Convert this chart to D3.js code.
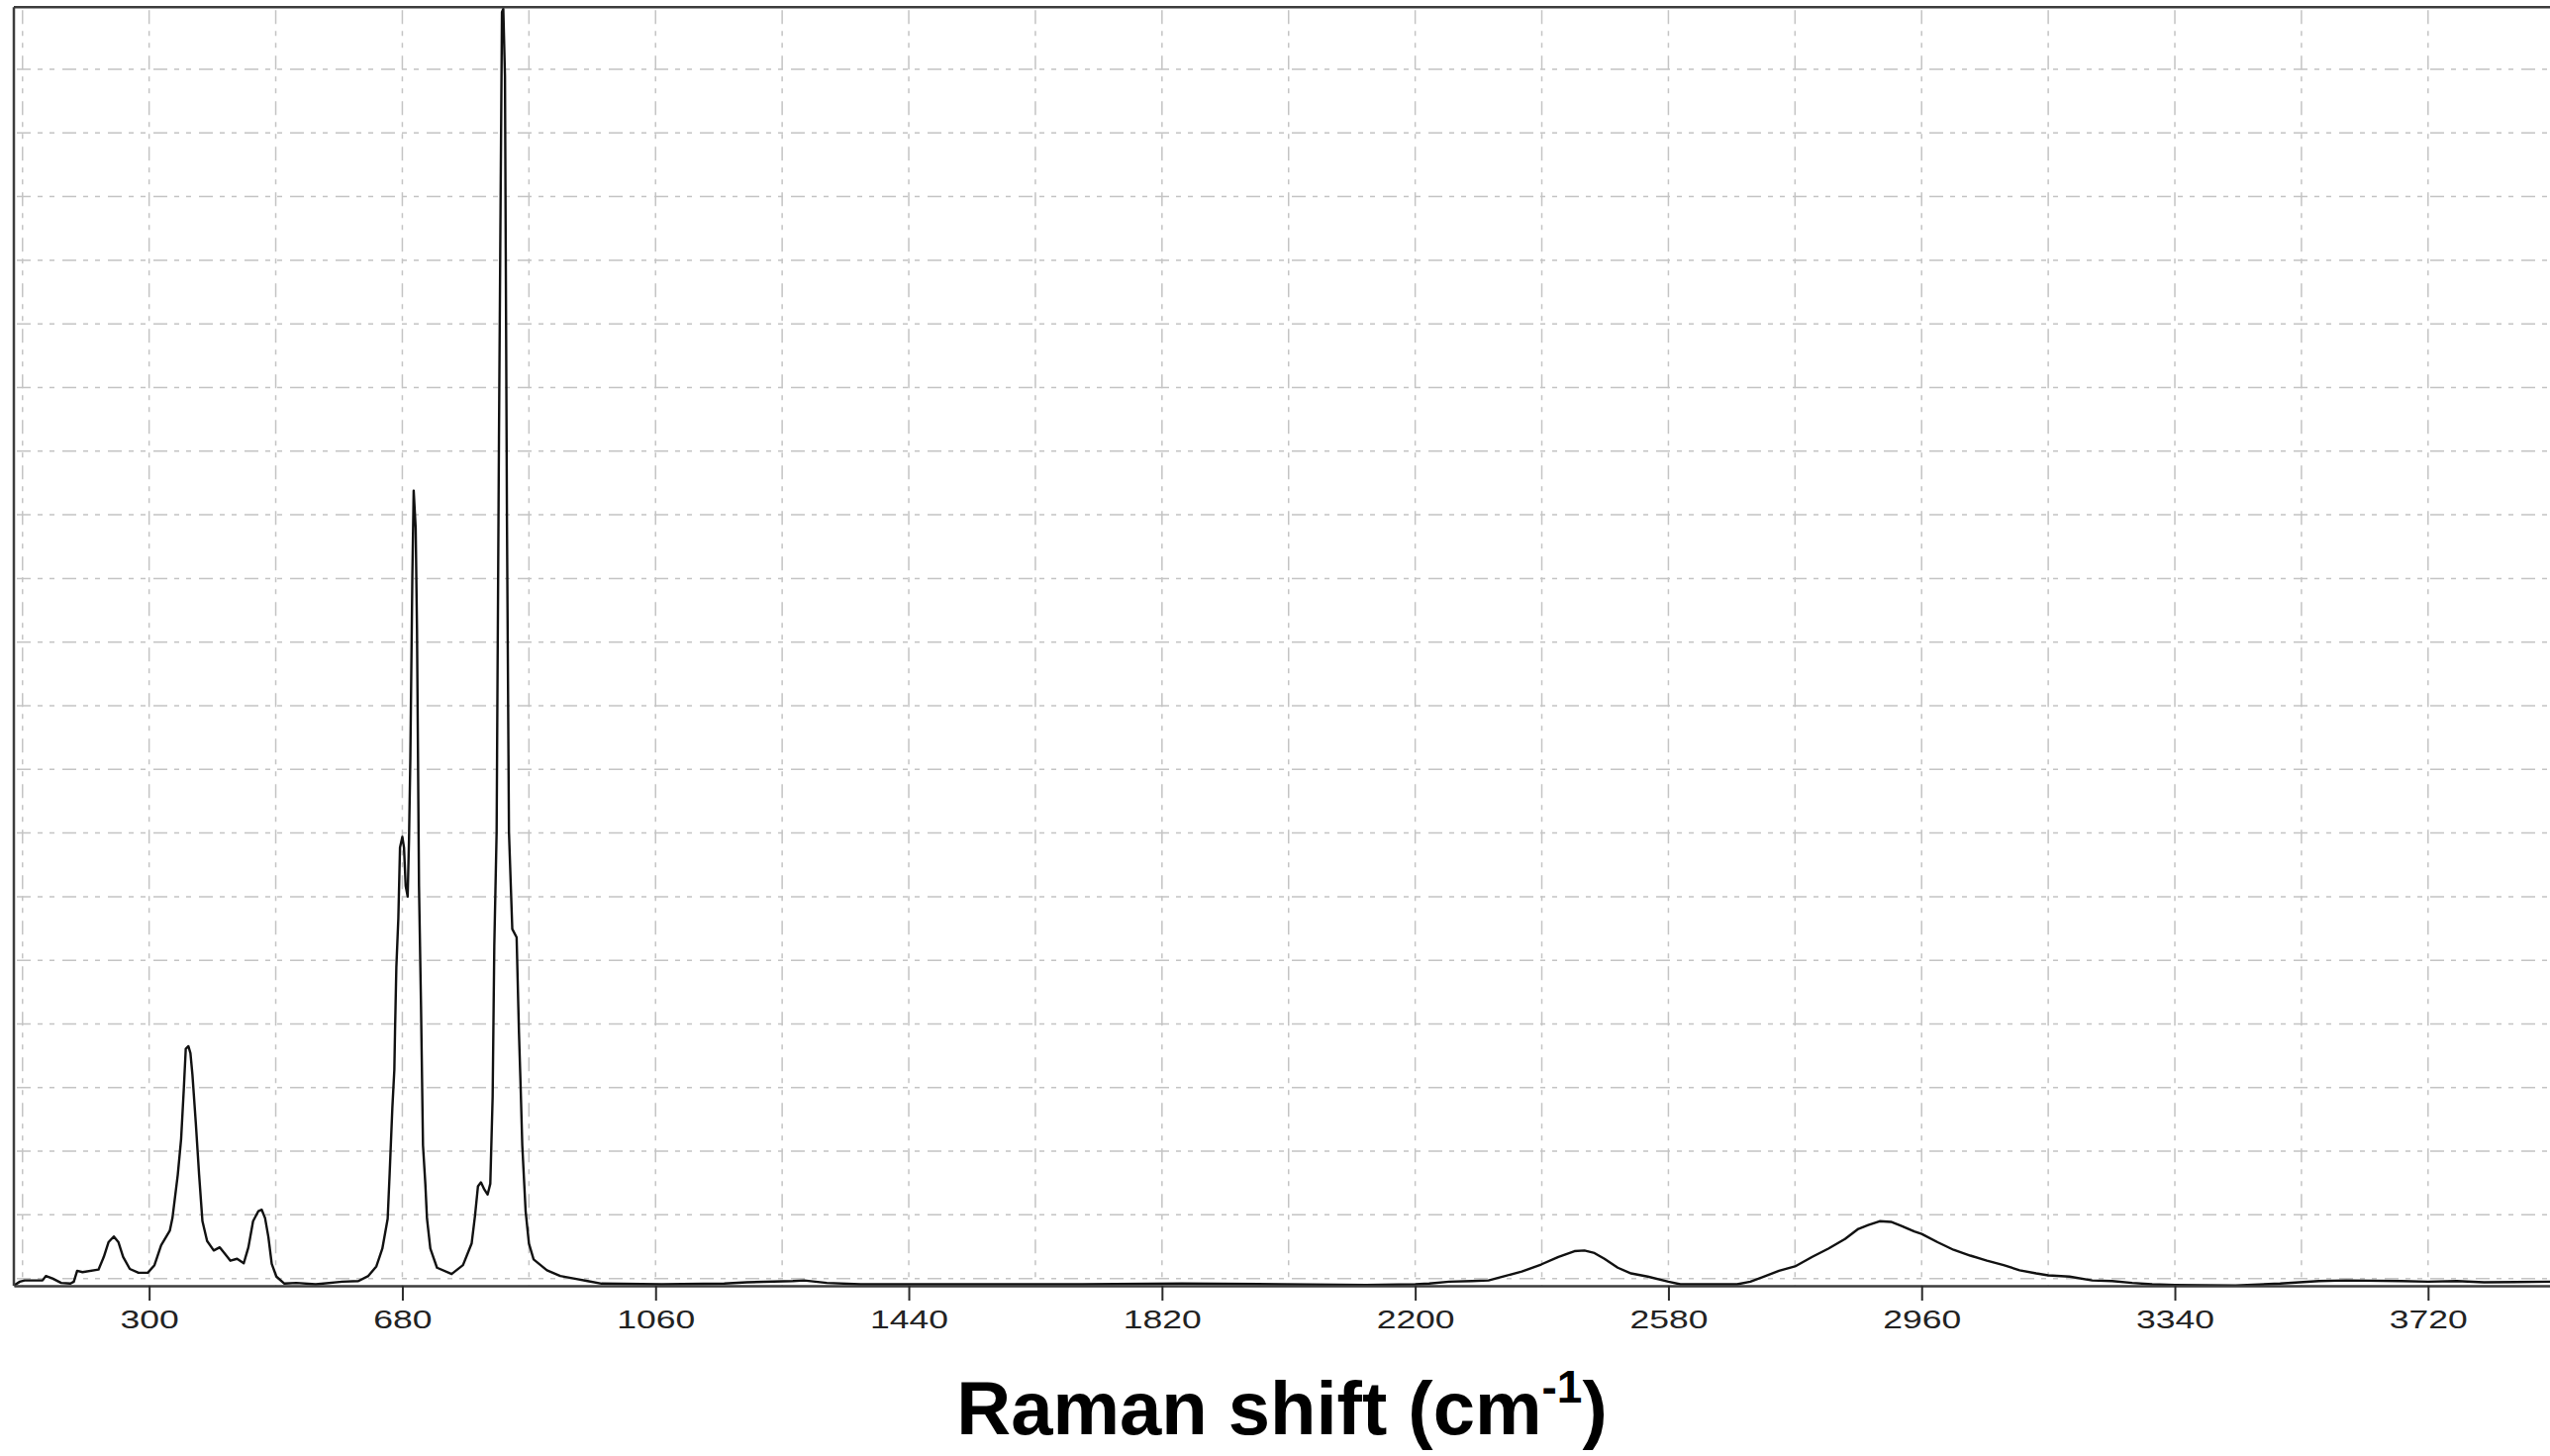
<!DOCTYPE html>
<html>
<head>
<meta charset="utf-8">
<script src="https://cdn.jsdelivr.net/npm/d3@7/dist/d3.min.js"></script>
<style>
  html, body { margin: 0; padding: 0; background: #fff; }
  svg { display: block; }
</style>
</head>
<body>
<script>
// ---- Data ----
const shift = [97,106,113,140,145,155,168,182,187,192,200,224,232,239,247,254,261,271,284,298,
  308,318,331,335,343,348,352,355,359,362,365,370,375,380,387,397,406,412,422,432,442,449,456,464,469,474,479,484,491,503,
  521,550,590,614,629,641,650,658,661,665,668,669,671,674,676.5,680,682.5,685,688,690,692,695,697,700,702,705,708,711,714.5,717,
  722,732,754,771,784,789,793.5,798,803,808,812,815.5,818,821.5,825,827.5,829.5,831.5,834,837,840,845,851.5,855,857.5,860,865,870,877,
  897,917,937,958,979,1069,1163,1197,1266,1283,1317,1368,1426,1550,1700,1850,2000,2126,2200,2221,2251,2285,2310,2335,2360,2389,
  2415,2439,2454,2469,2484,2504,2524,2549,2580,2598,2623,2653,2683,2703,2721,2746,2770,2796,2820,2845,2865,2880,2897,2914,2929,
  2949,2960,2984,3008,3033,3058,3083,3107,3132,3150,3182,3216,3246,3276,3306,3340,3431,3498,3556,3597,3680,3720,3763,3804,3903];
const intensity = [-0.11,-0.05,-0.03,-0.03,0.04,0.0,-0.07,-0.08,-0.05,0.12,0.10,0.14,0.34,0.57,0.66,0.57,0.34,0.15,0.09,0.09,
  0.21,0.52,0.75,0.95,1.63,2.19,2.97,3.61,3.65,3.54,3.2,2.45,1.63,0.90,0.59,0.44,0.49,0.41,0.28,0.31,0.24,0.49,0.90,1.06,1.08,0.95,0.65,0.23,0.03,-0.08,
  -0.07,-0.09,-0.05,-0.04,0.04,0.19,0.47,0.94,1.66,2.68,3.28,3.87,4.89,5.66,6.77,6.94,6.77,6.17,6.0,6.89,8.17,11.02,12.38,11.79,10.2,6.17,4.3,2.09,1.49,0.94,
  0.47,0.17,0.07,0.21,0.55,0.98,1.45,1.51,1.40,1.32,1.49,2.85,5.23,7.02,13.2,17.0,19.9,19.95,18.9,11.9,7.02,5.49,5.36,3.87,3.02,2.09,1.06,0.55,0.30,
  0.13,0.04,0.0,-0.04,-0.08,-0.09,-0.08,-0.06,-0.04,-0.03,-0.07,-0.09,-0.09,-0.09,-0.09,-0.08,-0.09,-0.10,-0.09,-0.08,-0.05,-0.04,-0.03,0.04,0.11,0.22,
  0.34,0.43,0.44,0.40,0.31,0.17,0.08,0.03,-0.05,-0.09,-0.09,-0.09,-0.09,-0.05,0.02,0.12,0.19,0.34,0.47,0.62,0.78,0.84,0.90,0.89,0.83,
  0.74,0.70,0.57,0.45,0.36,0.28,0.21,0.13,0.08,0.05,0.03,-0.03,-0.04,-0.07,-0.09,-0.10,-0.11,-0.08,-0.04,-0.03,-0.04,-0.05,-0.04,-0.06,-0.05];

const xTicks = [300, 680, 1060, 1440, 1820, 2200, 2580, 2960, 3340, 3720];
const xGrid = [110, 300, 490, 680, 870, 1060, 1250, 1440, 1630, 1820, 2010, 2200, 2390, 2580, 2770, 2960, 3150, 3340, 3530, 3720];
const yGrid = [0,1,2,3,4,5,6,7,8,9,10,11,12,13,14,15,16,17,18,19];
const xDomain = [97, 3903];
const yDomain = [-0.114, 19.975];
const xTitle = "Raman shift (cm";
const xTitleSup = "-1";
const xTitleEnd = ")";

// ---- Layout ----
const W = 2576, H = 1471;
const pLeft = 14, pRight = 2576, pTop = 7.3, pBottom = 1299;

const svg = d3.select("body").append("svg").attr("width", W).attr("height", H);
svg.append("rect").attr("width", W).attr("height", H).attr("fill", "#fff");

const x = d3.scaleLinear().domain(xDomain).range([pLeft, pRight]);
const y = d3.scaleLinear().domain(yDomain).range([pBottom, pTop]);

const gridColor = "#c4c4c4";
const dash = "14,7,5,7,5,8";

// gridlines
svg.append("g").selectAll("line").data(xGrid).join("line")
  .attr("x1", d => x(d)).attr("x2", d => x(d))
  .attr("y1", pTop + 3).attr("y2", pBottom)
  .attr("stroke", gridColor).attr("stroke-width", 1.5).attr("stroke-dasharray", dash);
svg.append("g").selectAll("line").data(yGrid).join("line")
  .attr("x1", pLeft + 3).attr("x2", pRight)
  .attr("y1", d => y(d)).attr("y2", d => y(d))
  .attr("stroke", gridColor).attr("stroke-width", 1.5).attr("stroke-dasharray", dash);

// spectrum
const pts = shift.map((s, i) => [s, intensity[i]]);
svg.append("path")
  .datum(pts)
  .attr("fill", "none")
  .attr("stroke", "#111")
  .attr("stroke-width", 2.4)
  .attr("stroke-linejoin", "round")
  .attr("d", d3.line().x(d => x(d[0])).y(d => y(d[1])));

// frame: top and left
const frameColor = "#3c3c3c";
svg.append("line").attr("x1", pLeft).attr("x2", pRight).attr("y1", pTop).attr("y2", pTop)
  .attr("stroke", frameColor).attr("stroke-width", 2.5);
svg.append("line").attr("x1", pLeft).attr("x2", pLeft).attr("y1", pTop).attr("y2", pBottom)
  .attr("stroke", frameColor).attr("stroke-width", 2.5);

// x axis
const axis = d3.axisBottom(x).tickValues(xTicks).tickSize(15).tickSizeOuter(0).tickFormat(d3.format("d"));
const gx = svg.append("g").attr("transform", `translate(0,${pBottom})`).call(axis);
gx.select(".domain").attr("stroke", frameColor).attr("stroke-width", 2.5);
gx.selectAll(".tick line").attr("stroke", "#2a2a2a").attr("stroke-width", 2);
gx.selectAll(".tick text")
  .attr("y", 43).attr("dy", null)
  .attr("fill", "#222")
  .attr("font-family", "'Liberation Sans', Arial, sans-serif")
  .attr("font-size", 25)
  .attr("transform", "scale(1.42,1)");

// x title
const tg = svg.append("g").attr("transform", `translate(${(pLeft + pRight) / 2},1449)`);
const tt = tg.append("text")
  .attr("text-anchor", "middle")
  .attr("font-family", "'Liberation Sans', Arial, sans-serif")
  .attr("font-weight", "bold")
  .attr("font-size", 76)
  .attr("fill", "#000");
tt.append("tspan").text(xTitle);
tt.append("tspan").attr("font-size", 46).attr("dy", -32).text(xTitleSup);
tt.append("tspan").attr("font-size", 76).attr("dy", 32).text(xTitleEnd);
</script>
</body>
</html>
